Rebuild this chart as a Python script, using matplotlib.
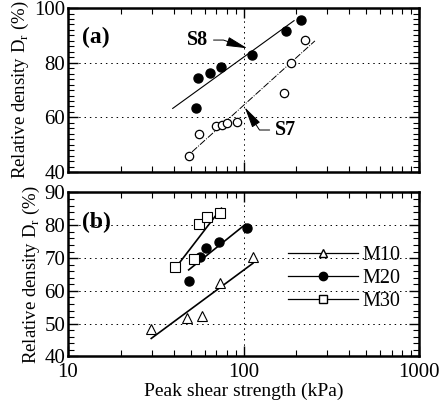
import matplotlib
matplotlib.use("Agg")
import matplotlib.pyplot as plt
from matplotlib.lines import Line2D
from matplotlib.ticker import MultipleLocator, LogLocator, NullFormatter, FixedLocator, FixedFormatter

plt.rcParams['font.family'] = 'Liberation Serif'
plt.rcParams['mathtext.fontset'] = 'custom'
plt.rcParams['mathtext.rm'] = 'Liberation Serif'

# (a) S7 / S8 data
s8_x = [53.7, 55.1, 64.1, 74.5, 112, 175, 212]
s8_y = [63.3, 74.3, 76.1, 78.3, 82.8, 91.5, 95.5]
s7_x = [48.8, 56.1, 70.1, 75.5, 80, 91.6, 169, 187, 223]
s7_y = [45.8, 54.0, 56.8, 57.2, 57.8, 58.5, 69.0, 80.0, 88.3]
s8_fit_x = [39.5, 194]
s8_fit_y = [63.3, 95.4]
s7_fit_x = [50.9, 255]
s7_fit_y = [47.4, 88.0]

# (b) M10 / M20 / M30 data
m10_x = [29.8, 47.6, 57.8, 73.9, 113]
m10_y = [48.3, 51.7, 52.3, 62.5, 70.2]
m20_x = [48.7, 56.2, 61.5, 72.3, 105]
m20_y = [63.1, 70.2, 73.0, 75.0, 79.3]
m30_x = [40.5, 52.0, 56.1, 61.7, 73.9]
m30_y = [67.4, 69.6, 80.4, 82.4, 83.8]
m10_fit_x = [29.8, 113]
m10_fit_y = [45.5, 68.4]
m20_fit_x = [48.7, 102.6]
m20_fit_y = [66.4, 80.3]
m30_fit_x = [41.8, 74.8]
m30_fit_y = [67.6, 85.2]

x_ticks = [10, 100, 1000]
x_labels = ['10', '100', '1000']

fig = plt.figure(figsize=(4.4, 4.04), dpi=100)
ax1 = fig.add_axes([0.1545, 0.574, 0.798, 0.406])
ax2 = fig.add_axes([0.1545, 0.1176, 0.798, 0.406])

grid_kw = dict(color='black', linestyle=(0, (1.5, 4)), linewidth=0.7)


def style_axes(ax, ymin, ymax, yticks):
    ax.set_xscale('log')
    ax.set_xlim(10, 1000)
    ax.set_ylim(ymin, ymax)
    ax.set_yticks(yticks)
    ax.yaxis.set_minor_locator(MultipleLocator(2))
    ax.xaxis.set_major_locator(FixedLocator(x_ticks))
    ax.xaxis.set_major_formatter(FixedFormatter(x_labels))
    ax.xaxis.set_minor_locator(LogLocator(base=10, subs=range(2, 10)))
    ax.xaxis.set_minor_formatter(NullFormatter())
    ax.tick_params(which='both', direction='in', top=True, right=True, labelsize=15)
    ax.tick_params(which='major', length=7, width=1, pad=2)
    ax.tick_params(axis='x', which='major', pad=5)
    ax.tick_params(which='minor', length=4, width=0.8)
    for sp in ax.spines.values():
        sp.set_linewidth(1.8)
    for yv in yticks[1:-1]:
        ax.axhline(yv, **grid_kw, zorder=0)
    ax.axvline(100, **grid_kw, zorder=0)
    ax.set_ylabel('Relative density D$_\\mathregular{r}$ (%)', fontsize=13.5, labelpad=2)


style_axes(ax1, 40, 100, [40, 60, 80, 100])
style_axes(ax2, 40, 90, [40, 50, 60, 70, 80, 90])
ax1.tick_params(labelbottom=False)

# panel (a)
ax1.plot(s8_fit_x, s8_fit_y, color='black', linewidth=0.8)
ax1.plot(s7_fit_x, s7_fit_y, color='black', linewidth=0.7, linestyle=(0, (7, 1.5, 1, 1.5)))
ax1.plot(s8_x, s8_y, 'o', color='black', markersize=6.5, linestyle='none')
ax1.plot(s7_x, s7_y, 'o', markerfacecolor='white', markeredgecolor='black',
         markeredgewidth=0.9, markersize=6, linestyle='none')
ax1.text(0.04, 0.82, '(a)', transform=ax1.transAxes, fontsize=17, fontweight='bold',
         va='center')
arrow_kw = dict(arrowstyle='-|>,head_length=0.9,head_width=0.2', color='black',
                linewidth=0.7, shrinkA=2, shrinkB=0)
ax1.annotate('S8', xy=(105, 85.3), xytext=(54.6, 88.3), fontsize=14.5, fontweight='bold',
             ha='center', va='center',
             arrowprops=dict(**arrow_kw, connectionstyle='angle,angleA=0,angleB=-19,rad=0'))
ax1.annotate('S7', xy=(101.6, 63.7), xytext=(174, 55.4), fontsize=14.5, fontweight='bold',
             ha='center', va='center',
             arrowprops=dict(**arrow_kw, connectionstyle='angle,angleA=180,angleB=-57,rad=0'))

# panel (b)
for fx, fy in [(m10_fit_x, m10_fit_y), (m20_fit_x, m20_fit_y), (m30_fit_x, m30_fit_y)]:
    ax2.plot(fx, fy, color='black', linewidth=1.2)
ax2.plot(m10_x, m10_y, '^', markerfacecolor='white', markeredgecolor='black',
         markeredgewidth=0.8, markersize=6.5, linestyle='none')
ax2.plot(m20_x, m20_y, 'o', color='black', markersize=6.5, linestyle='none')
ax2.plot(m30_x, m30_y, 's', markerfacecolor='white', markeredgecolor='black',
         markeredgewidth=0.8, markersize=6.5, linestyle='none')
ax2.text(0.04, 0.82, '(b)', transform=ax2.transAxes, fontsize=17, fontweight='bold',
         va='center')

handles = [
    Line2D([], [], color='black', linewidth=0.9, marker='^', markerfacecolor='white',
           markeredgecolor='black', markersize=5.5),
    Line2D([], [], color='black', linewidth=0.9, marker='o', markersize=6),
    Line2D([], [], color='black', linewidth=0.9, marker='s', markerfacecolor='white',
           markeredgecolor='black', markersize=5.5),
]
ax2.legend(handles, ['M10', 'M20', 'M30'], loc='center left', bbox_to_anchor=(0.575, 0.475),
           frameon=False, fontsize=14.5, handlelength=3.5, handletextpad=0.2,
           labelspacing=0.2, markerscale=1)

ax2.set_xlabel('Peak shear strength (kPa)', fontsize=14, labelpad=0)

fig.savefig('out.png', dpi=100)
